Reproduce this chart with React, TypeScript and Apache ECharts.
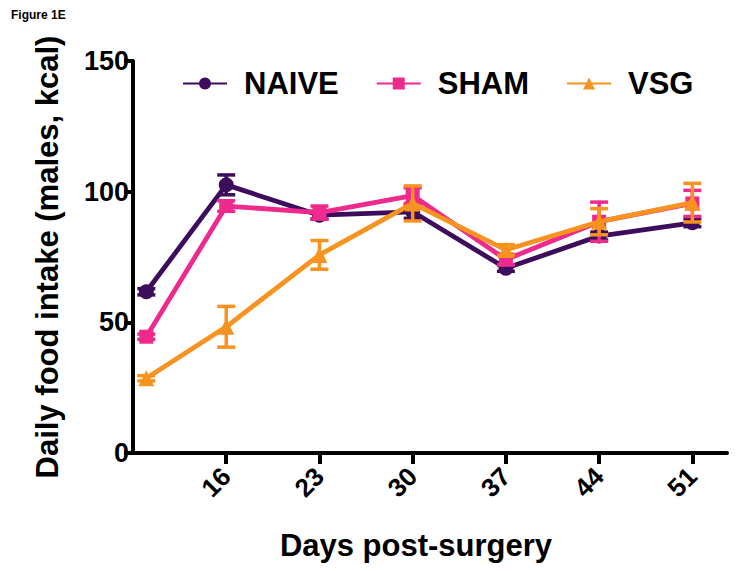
import React, { useEffect, useRef } from "react";
import * as echarts from "echarts";

// Days post-surgery for each measurement
const days = [10, 16, 23, 30, 37, 44, 51];
const tickDays = [16, 23, 30, 37, 44, 51];
const axisStartDay = 9;
const axisEndDay = 53.6;
const yTicks = [0, 50, 100, 150];

const naive = [61.7, 102.6, 91, 92.3, 70.7, 83, 88.1];
const naiveErr = [1.2, 3.8, 1.5, 2.5, 1.2, 1.5, 1.5];
const sham = [44.5, 94.5, 92, 98.5, 74, 88.5, 95.5];
const shamErr = [1, 2, 2.5, 3, 2, 7.5, 5];
const vsg = [28.6, 48.3, 75.8, 95.5, 77.7, 88.5, 95.8];
const vsgErr = [1, 7.8, 5.5, 6.7, 2, 5, 7.4];

const FONT = "'Liberation Sans', Arial, sans-serif";
const C_NAIVE = "#3e0c5c";
const C_SHAM = "#ee2a8c";
const C_VSG = "#f7931e";

function lineSeries(name: string, vals: number[], color: string, symbol: string, size: number, z: number) {
  return {
    type: "line",
    name,
    data: days.map((d, i) => [d, vals[i]]),
    symbol,
    symbolSize: size,
    lineStyle: { color, width: 4.8 },
    itemStyle: { color, borderWidth: 0 },
    z,
    emphasis: { disabled: true },
  };
}

function errSeries(vals: number[], errs: number[], color: string, z: number) {
  return {
    type: "custom",
    silent: true,
    z,
    data: days.map((d, i) => [d, vals[i], errs[i]]),
    renderItem: (params: any, api: any) => {
      const x = api.value(0);
      const y = api.value(1);
      const e = api.value(2);
      const top = api.coord([x, y + e]);
      const bot = api.coord([x, y - e]);
      const hw = 9;
      const style = { stroke: color, lineWidth: 3.5 };
      return {
        type: "group",
        children: [
          { type: "line", shape: { x1: top[0], y1: top[1], x2: bot[0], y2: bot[1] }, style },
          { type: "line", shape: { x1: top[0] - hw, y1: top[1], x2: top[0] + hw, y2: top[1] }, style },
          { type: "line", shape: { x1: bot[0] - hw, y1: bot[1], x2: bot[0] + hw, y2: bot[1] }, style },
        ],
      };
    },
  };
}

export default function App() {
  const ref = useRef<HTMLDivElement>(null);
  useEffect(() => {
    if (!ref.current) return;
    const chart = echarts.init(ref.current, undefined, { renderer: "svg" });
    chart.setOption({
      animation: false,
      title: {
        text: "Figure 1E",
        left: 6,
        top: 4,
        textStyle: { fontSize: 12, fontWeight: "bold", fontFamily: FONT, color: "#000" },
      },
      legend: {
        data: ["NAIVE", "SHAM", "VSG"],
        left: 177,
        top: 63,
        itemWidth: 44,
        itemHeight: 15,
        itemGap: 37,
        selectedMode: false,
        textStyle: { fontSize: 31, fontWeight: "bold", fontFamily: FONT, color: "#000", padding: [0, 0, 0, 12] },
      },
      grid: { left: 133, right: 15, top: 61, bottom: 118, containLabel: false },
      xAxis: {
        type: "value",
        min: axisStartDay,
        max: axisEndDay,
        splitLine: { show: false },
        axisLine: { show: true, lineStyle: { color: "#000", width: 4, cap: "round" } },
        axisTick: {
          show: true,
          length: 11,
          customValues: tickDays,
          lineStyle: { color: "#000", width: 4 },
        },
        axisLabel: {
          customValues: tickDays,
          rotate: 45,
          margin: 19,
          fontSize: 26,
          fontWeight: "bold",
          fontFamily: FONT,
          color: "#000",
        },
        name: "Days post-surgery",
        nameLocation: "middle",
        nameGap: 77,
        nameTextStyle: { fontSize: 31, fontWeight: "bold", fontFamily: FONT, color: "#000", padding: [0, 28, 0, 0] },
      },
      yAxis: {
        type: "value",
        min: yTicks[0],
        max: yTicks[yTicks.length - 1],
        interval: 50,
        splitLine: { show: false },
        axisLine: { show: true, lineStyle: { color: "#000", width: 4 } },
        axisTick: { show: true, length: 9, lineStyle: { color: "#000", width: 4 } },
        axisLabel: {
          margin: 4,
          fontSize: 27,
          fontWeight: "bold",
          fontFamily: FONT,
          color: "#000",
        },
        name: "Daily food intake (males, kcal)",
        nameLocation: "middle",
        nameGap: 70,
        nameTextStyle: { fontSize: 31, fontWeight: "bold", fontFamily: FONT, color: "#000" },
      },
      series: [
        errSeries(naive, naiveErr, C_NAIVE, 2),
        lineSeries("NAIVE", naive, C_NAIVE, "circle", 15, 3),
        errSeries(sham, shamErr, C_SHAM, 4),
        lineSeries("SHAM", sham, C_SHAM, "rect", 14, 5),
        errSeries(vsg, vsgErr, C_VSG, 6),
        lineSeries("VSG", vsg, C_VSG, "triangle", 16, 7),
      ],
    });
    return () => chart.dispose();
  }, []);
  return (
    <div
      ref={ref}
      style={{ position: "fixed", left: 0, top: 0, width: 742, height: 571, background: "#fff" }}
    />
  );
}
